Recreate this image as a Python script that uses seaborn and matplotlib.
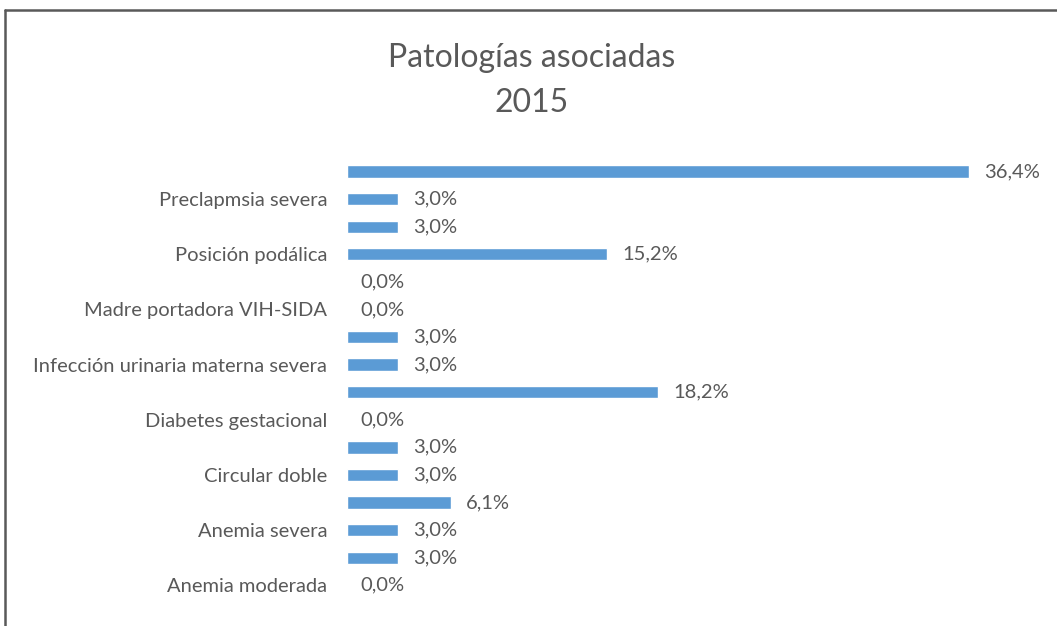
import matplotlib
matplotlib.use("Agg")
import matplotlib.pyplot as plt
import seaborn as sns
import pandas as pd

# data, top to bottom as in the chart (Excel shows only every other label)
labels = ["", "Preclapmsia severa", "", "Posición podálica", "", "Madre portadora VIH-SIDA",
          "", "Infección urinaria materna severa", "", "Diabetes gestacional", "",
          "Circular doble", "", "Anemia severa", "", "Anemia moderada"]
values = [36.4, 3.0, 3.0, 15.2, 0.0, 0.0, 3.0, 3.0, 18.2, 0.0, 3.0, 3.0, 6.1, 3.0, 3.0, 0.0]

sns.set_style("white")
plt.rcParams['font.family'] = ['Lato', 'DejaVu Sans']
txt = "#595959"

df = pd.DataFrame({"pos": [str(i) for i in range(len(values))], "value": values})

fig = plt.figure(figsize=(10.57, 6.26), dpi=100)
ax = fig.add_axes([0.328, 0.043, 0.647, 0.705])
sns.barplot(data=df, x="value", y="pos", orient="h", color="#5B9BD5", saturation=1,
            width=0.45, ax=ax)
ax.set_xlim(0, 40)
ax.set_yticks(range(len(labels)))
ax.set_yticklabels(labels, fontsize=14.5, color=txt)
ax.tick_params(axis="y", length=0, pad=14)
ax.set_xticks([])
ax.set_xlabel("")
ax.set_ylabel("")
for s in ax.spines.values():
    s.set_visible(False)

for i, v in enumerate(values):
    ax.text(v + 0.9 if v > 0 else 0.8, i, f"{v:.1f}%".replace(".", ","),
            va="center", ha="left", fontsize=14.5, color=txt)

fig.text(0.503, 0.908, "Patologías asociadas", ha="center", va="center", fontsize=23, color=txt)
fig.text(0.503, 0.835, "2015", ha="center", va="center", fontsize=23, color=txt)

# chart frame
fig.add_artist(plt.Line2D([5 / 1057, 5 / 1057], [0, 1 - 10 / 626], transform=fig.transFigure,
                          color="#595959", lw=1.8))
fig.add_artist(plt.Line2D([5 / 1057, 1], [1 - 10 / 626, 1 - 10 / 626], transform=fig.transFigure,
                          color="#595959", lw=1.8))

fig.savefig("out.png", dpi=100)
